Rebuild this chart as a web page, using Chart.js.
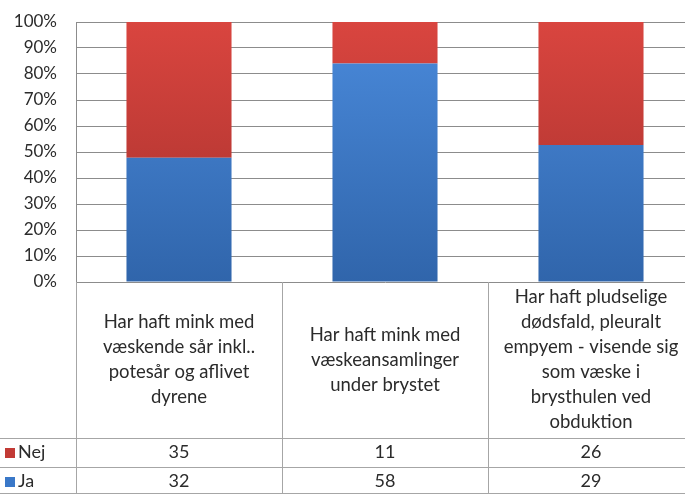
<!DOCTYPE html>
<html>
<head>
<meta charset="utf-8">
<script src="https://cdn.jsdelivr.net/npm/chart.js@4.4.1/dist/chart.umd.min.js"></script>
<style>
  html, body { margin: 0; padding: 0; background: #fff; overflow: hidden; }
  #wrap { width: 700px; height: 494px; }
</style>
</head>
<body>
<div id="wrap"><canvas id="chart"></canvas></div>
<script>
// Category labels, already broken into lines as in the data table
const categories = [
    ['Har haft mink med', 'væskende sår inkl..', 'potesår og aflivet', 'dyrene'],
    ['Har haft mink med', 'væskeansamlinger', 'under brystet'],
    ['Har haft pludselige', 'dødsfald, pleuralt', 'empyem - visende sig', 'som væske i', 'brysthulen ved', 'obduktion']
];
const seriesNames = ['Ja', 'Nej'];
const jaCounts = [32, 58, 29];
const nejCounts = [35, 11, 26];
const yTicks = [0, 10, 20, 30, 40, 50, 60, 70, 80, 90, 100];

const FONT = 'Lato, "Open Sans", sans-serif';
const TEXT = '#2b2b2b';
const GRID = '#8c8c8c';
const TABLE_LINE = '#a6a6a6';

// 100% stacked: share of each answer per category
const totals = jaCounts.map((v, i) => v + nejCounts[i]);
const jaPct = jaCounts.map((v, i) => v / totals[i] * 100);
const nejPct = nejCounts.map((v, i) => v / totals[i] * 100);

function vGradient(top, bottom) {
    return (context) => {
        const area = context.chart.chartArea;
        if (!area) return bottom;
        const g = context.chart.ctx.createLinearGradient(0, area.top, 0, area.bottom);
        g.addColorStop(0, top);
        g.addColorStop(1, bottom);
        return g;
    };
}

const colors = {
    ja: { fill: vGradient('#4a8adb', '#3065ab'), key: '#3a78c8' },
    nej: { fill: vGradient('#d9453f', '#a5302c'), key: '#c23a35' }
};

// Draws the data table under the plot (labels, legend keys, counts)
const dataTablePlugin = {
    id: 'dataTable',
    afterDraw(chart) {
        const { ctx, chartArea, scales } = chart;
        const x = scales.x;
        const step = x.getPixelForValue(1) - x.getPixelForValue(0);
        const top = chartArea.bottom;
        const rowH = 29;
        const bottom = chart.height;
        const nejTop = bottom - 2 * rowH + 2;
        const jaTop = nejTop + rowH;

        ctx.save();
        ctx.strokeStyle = TABLE_LINE;
        ctx.lineWidth = 1;
        ctx.beginPath();
        // left edge of the table / plot
        ctx.moveTo(Math.round(chartArea.left) + 0.5, top);
        ctx.lineTo(Math.round(chartArea.left) + 0.5, bottom);
        // category boundaries
        for (let i = 0; i < categories.length; i++) {
            const bx = Math.round(x.getPixelForValue(i) + step / 2) + 0.5;
            ctx.moveTo(bx, top);
            ctx.lineTo(bx, bottom);
        }
        // row lines
        [nejTop, jaTop, bottom - 1].forEach((ry) => {
            ctx.moveTo(0, ry + 0.5);
            ctx.lineTo(chart.width, ry + 0.5);
        });
        ctx.stroke();

        ctx.fillStyle = TEXT;
        ctx.font = '18.5px ' + FONT;
        ctx.textAlign = 'center';
        ctx.textBaseline = 'middle';
        const lineH = 25;
        const cellMid = (top + nejTop) / 2;
        categories.forEach((lines, i) => {
            const cx = x.getPixelForValue(i);
            const y0 = cellMid - (lines.length - 1) * lineH / 2;
            lines.forEach((t, j) => ctx.fillText(t, cx, y0 + j * lineH));
        });

        ctx.font = '18px ' + FONT;
        const rows = [
            { name: seriesNames[1], values: nejCounts, y: nejTop + rowH / 2, c: colors.nej.key },
            { name: seriesNames[0], values: jaCounts, y: jaTop + rowH / 2, c: colors.ja.key }
        ];
        rows.forEach((r) => {
            ctx.fillStyle = r.c;
            ctx.fillRect(5, Math.round(r.y) - 5, 10, 10);
            ctx.fillStyle = TEXT;
            ctx.textAlign = 'left';
            ctx.fillText(r.name, 18, r.y);
            ctx.textAlign = 'center';
            r.values.forEach((v, i) => ctx.fillText(String(v), x.getPixelForValue(i), r.y));
        });
        ctx.restore();
    }
};

new Chart(document.getElementById('chart'), {
    type: 'bar',
    data: {
        labels: categories,
        datasets: [
            {
                label: seriesNames[0],
                data: jaPct,
                backgroundColor: colors.ja.fill,
                borderWidth: 0,
                categoryPercentage: 1,
                barPercentage: 0.51
            },
            {
                label: seriesNames[1],
                data: nejPct,
                backgroundColor: colors.nej.fill,
                borderWidth: 0,
                categoryPercentage: 1,
                barPercentage: 0.51
            }
        ]
    },
    options: {
        responsive: true,
        maintainAspectRatio: false,
        animation: false,
        layout: { padding: { top: 22, right: 6, bottom: 212, left: 0 } },
        plugins: {
            legend: { display: false },
            tooltip: { enabled: false }
        },
        scales: {
            x: {
                stacked: true,
                display: false
            },
            y: {
                stacked: true,
                min: 0,
                max: 100,
                afterFit: (scale) => {
                    scale.width = 76;
                    scale.paddingTop = 0;
                    scale.paddingBottom = 0;
                },
                afterBuildTicks: (scale) => { scale.ticks = yTicks.map((v) => ({ value: v })); },
                ticks: {
                    padding: 19,
                    color: TEXT,
                    font: { family: FONT, size: 17 },
                    callback: (v) => v + '%'
                },
                grid: { color: GRID, lineWidth: 1, drawTicks: false },
                border: { display: true, color: GRID, width: 1 }
            }
        }
    },
    plugins: [dataTablePlugin]
});
</script>
</body>
</html>
